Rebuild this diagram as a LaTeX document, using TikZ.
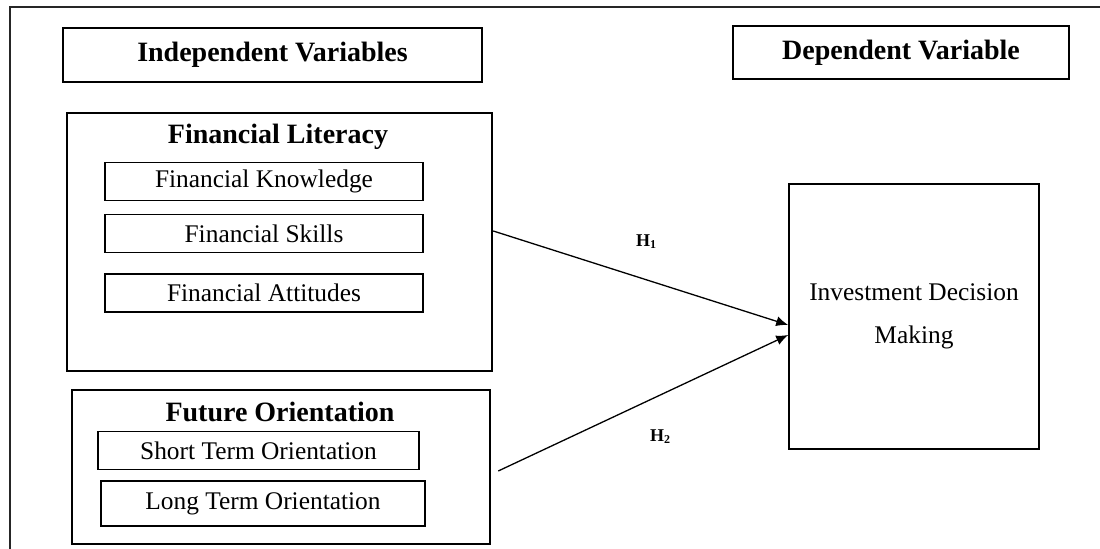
\documentclass[tikz,border=0pt]{standalone}
\usepackage{fontspec}
\setmainfont{Liberation Serif}
\usetikzlibrary{arrows.meta}
\begin{document}
\begin{tikzpicture}[
  x=0.5pt, y=-0.5pt,
  outerline/.style={draw=black!85, line width=1pt},
  head/.style={rectangle, draw, line width=1.2pt, font=\fontsize{14}{16}\selectfont\bfseries, align=center},
  varbox/.style={rectangle, draw, line width=1.25pt},
  grouptitle/.style={font=\fontsize{14}{16}\selectfont\bfseries},
  item/.style={rectangle, draw, line width=0.65pt, minimum width=159pt, minimum height=19pt, font=\fontsize{12.7}{15}\selectfont},
  link/.style={-{Latex[length=6pt,width=5pt]}, line width=0.65pt},
  hyp/.style={font=\fontsize{9}{10}\selectfont\bfseries}
]
\useasboundingbox (0,0) rectangle (1100,549);
\draw[outerline] (9.5,549) |- (1100,7);

% Headers
\node (indep) [head, minimum width=209.5pt, minimum height=27pt] at (272.5,55) {Independent Variables};
\node (dep) [head, minimum width=168pt, minimum height=26.5pt] at (901,52.5) {Dependent Variable};

% Financial literacy block
\node (lit) [varbox, minimum width=212.5pt, minimum height=129pt] at (279.5,242) {};
\node (litTitle) [grouptitle] at (278,137) {Financial Literacy};
\node (know) [item] at (264,181.5) {Financial Knowledge};
\node (skill) [item, below of=know, node distance=26pt] {Financial Skills};
\node (att) [item, below of=skill, node distance=29.75pt] {Financial Attitudes};

% Future orientation block
\node (fut) [varbox, minimum width=209pt, minimum height=77pt] at (281,467) {};
\node (futTitle) [grouptitle] at (280,412) {Future Orientation};
\node (short) [item, minimum width=160.5pt] at (258.5,450.5) {Short Term Orientation};
\node (long) [item, minimum width=162pt, minimum height=22.5pt, below of=short, node distance=26.5pt, xshift=2.25pt] {Long Term Orientation};

% Dependent block
\node (inv) [rectangle, draw, line width=0.8pt, minimum width=125pt, minimum height=132.5pt, align=center, font=\fontsize{12.7}{15}\selectfont] at (914,316.5) {Investment Decision\\[6.5pt]Making};

% Hypotheses
\draw[link] ([yshift=5.5pt]lit.east) -- node[hyp, pos=0.52, above=12pt] {H\textsubscript{1}} ([yshift=-4.25pt]inv.west);
\draw[link] ([shift={(3.5pt,-2pt)}]fut.east) -- node[hyp, pos=0.56, below=14pt] {H\textsubscript{2}} ([yshift=-9.25pt]inv.west);

\end{tikzpicture}
\end{document}
